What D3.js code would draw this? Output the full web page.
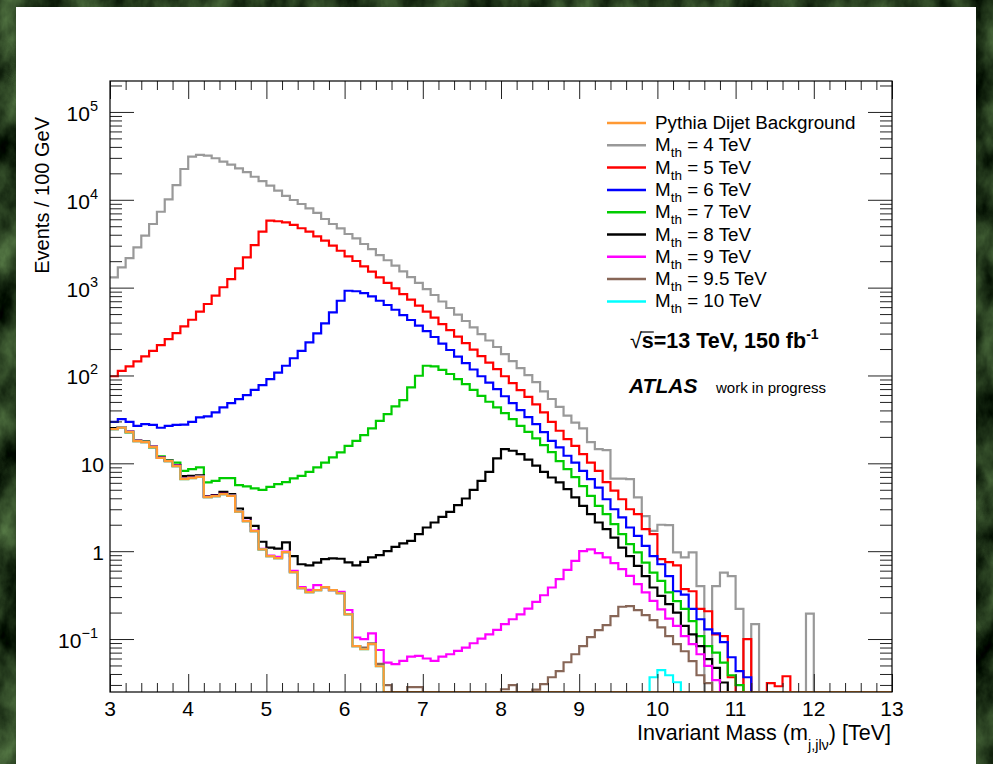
<!DOCTYPE html>
<html>
<head>
<meta charset="utf-8">
<script src="https://cdn.jsdelivr.net/npm/d3@7"></script>
<style>
  html, body { margin: 0; padding: 0; background: #24391f; }
  svg { display: block; }
  text { font-family: "Liberation Sans", Arial, Helvetica, sans-serif; fill: #000; }
</style>
</head>
<body>
<svg id="chart" width="993" height="764"></svg>
<script>
// 100 GeV bins from 3 to 13 TeV, events per bin (0 = empty bin)
var binStart = 3, binEnd = 13, binWidth = 0.1;

var pythia = [
  24.5, 25.5, 22.7, 17.9, 17.4, 15.3, 11.5, 10.6, 9.3, 6.6,
  6.8, 7.0, 4.12, 4.23, 4.46, 4.25, 2.82, 2.2, 1.69, 1.05,
  0.877, 0.832, 0.975, 0.576, 0.379, 0.341, 0.36, 0.389, 0.36, 0.332,
  0.191, 0.0828, 0.0765, 0.0873, 0.049, 0, 0, 0, 0, 0,
  0, 0, 0, 0, 0, 0, 0, 0, 0, 0,
  0, 0, 0, 0, 0, 0, 0, 0, 0, 0,
  0, 0, 0, 0, 0, 0, 0, 0, 0, 0,
  0, 0, 0, 0, 0, 0, 0, 0, 0, 0,
  0, 0, 0, 0, 0, 0, 0, 0, 0, 0,
  0, 0, 0, 0, 0, 0, 0, 0, 0, 0
];
var mth4 = [
  1310, 1700, 2170, 2880, 3900, 5300, 7310, 10100, 14700, 22400,
  31000, 32400, 31800, 29700, 27200, 25100, 22800, 20600, 18300, 16300,
  14500, 12700, 11100, 9950, 8960, 8000, 7080, 6040, 5300, 4730,
  4080, 3640, 3140, 2750, 2350, 2050, 1780, 1530, 1320, 1130,
  964, 824, 695, 586, 494, 417, 352, 296, 250, 211,
  175, 146, 121, 101, 84, 66, 54, 44, 35, 29,
  25, 17.4, 14.5, 14.1, 6.7, 6.7, 6.6, 4.1, 2.5, 1.7,
  2.0, 1.98, 0.97, 0.85, 0.97, 0.40, 0, 0.40, 0.57, 0.52,
  0.22, 0, 0.148, 0, 0, 0, 0, 0, 0, 0.195,
  0, 0, 0, 0, 0, 0, 0, 0, 0, 0
];
var mth5 = [
  98, 113, 127, 145, 165, 191, 222, 260, 304, 362,
  431, 532, 651, 809, 1010, 1250, 1660, 2210, 3050, 4330,
  5780, 5700, 5540, 5170, 4740, 4330, 3840, 3420, 3000, 2630,
  2270, 2010, 1750, 1520, 1310, 1130, 982, 845, 732, 625,
  534, 456, 385, 329, 277, 234, 197, 166, 140, 118,
  98, 82, 68, 57, 47, 38, 29.7, 23.5, 18.9, 15.8,
  12.7, 10.2, 8.2, 6.1, 4.9, 3.9, 3.0, 2.64, 1.78, 1.56,
  0.81, 0.75, 0.69, 0.37, 0.35, 0.22, 0.207, 0.113, 0.108, 0.0367,
  0, 0.0995, 0, 0, 0.0314, 0.029, 0.0377, 0, 0, 0,
  0, 0, 0, 0, 0, 0, 0, 0, 0, 0
];
var mth6 = [
  29.7, 31.9, 29.7, 26.7, 27.9, 27.4, 25.4, 26.7, 27.4, 27.6,
  29.7, 33.3, 34.2, 38, 43.3, 48.5, 53.8, 59.8, 68.7, 77.8,
  91, 108, 129, 157, 191, 238, 302, 392, 523, 709,
  922, 910, 867, 796, 709, 634, 560, 487, 428, 370,
  320, 274, 231, 195, 164, 138, 117, 98, 83, 70,
  58, 48.5, 40.4, 33.6, 27.9, 22.6, 18, 15.2, 12.2, 10.2,
  8.2, 6.6, 5.3, 3.9, 3.0, 2.42, 1.86, 1.49, 1.15, 0.88,
  0.71, 0.52, 0.35, 0.32, 0.22, 0.168, 0.129, 0.116, 0.092, 0.062,
  0.043, 0.0367, 0, 0, 0, 0, 0, 0, 0, 0,
  0, 0, 0, 0, 0, 0, 0, 0, 0, 0
];
var mth7 = [
  25, 25.4, 22.5, 18, 17.6, 15.2, 12, 10.9, 10.2, 8.2,
  8.6, 9.0, 6.06, 6.32, 6.78, 6.8, 5.65, 5.46, 5.18, 4.99,
  5.4, 5.8, 6.1, 6.73, 7.2, 8.0, 8.98, 10.2, 11.7, 13.3,
  15.8, 18, 20.9, 25, 30.5, 36.3, 44.5, 52.5, 73.1, 99.3,
  129, 127, 116, 104, 91, 79.8, 68.7, 58.7, 50.2, 43.3,
  37.3, 31.9, 26.7, 22.8, 19.2, 16.1, 13.4, 10.6, 8.6, 6.97,
  5.5, 4.26, 3.28, 2.64, 2.03, 1.56, 1.2, 0.97, 0.74, 0.57,
  0.46, 0.34, 0.27, 0.22, 0.16, 0.108, 0.083, 0.070, 0.054, 0.0387,
  0.0298, 0, 0, 0, 0, 0, 0, 0, 0, 0,
  0, 0, 0, 0, 0, 0, 0, 0, 0, 0
];
var mth8 = [
  25.2, 25.8, 23, 18.1, 17.7, 15.5, 11.6, 10.7, 9.5, 7.15,
  7.2, 7.3, 4.2, 4.34, 4.74, 4.46, 3.06, 2.39, 1.94, 1.28,
  1.10, 1.07, 1.26, 0.88, 0.71, 0.69, 0.74, 0.81, 0.826, 0.82,
  0.745, 0.69, 0.755, 0.85, 0.90, 1.0, 1.12, 1.23, 1.31, 1.56,
  1.86, 2.12, 2.46, 2.80, 3.34, 3.98, 4.99, 6.32, 8.0, 11.4,
  14.5, 13.9, 12.7, 11.0, 9.4, 8.0, 6.9, 6.06, 5.08, 4.09,
  3.28, 2.64, 2.12, 1.78, 1.43, 1.10, 0.88, 0.68, 0.52, 0.386,
  0.31, 0.249, 0.20, 0.141, 0.113, 0.083, 0.059, 0.047, 0.032, 0,
  0, 0, 0, 0, 0, 0, 0, 0, 0, 0,
  0, 0, 0, 0, 0, 0, 0, 0, 0, 0
];
var mth9 = [
  24.6, 25.6, 22.8, 18, 17.5, 15.4, 11.6, 10.7, 9.4, 6.7,
  6.9, 7.1, 4.15, 4.26, 4.5, 4.3, 2.85, 2.22, 1.71, 1.06,
  0.89, 0.86, 0.99, 0.597, 0.39, 0.362, 0.41, 0.386, 0.36, 0.344,
  0.214, 0.104, 0.0995, 0.116, 0.075, 0.054, 0.0517, 0.0563, 0.0632, 0.0643,
  0.060, 0.0563, 0.0632, 0.0671, 0.0732, 0.080, 0.0895, 0.101, 0.113, 0.127,
  0.148, 0.168, 0.191, 0.222, 0.265, 0.315, 0.386, 0.48, 0.612, 0.776,
  1.0, 1.05, 0.95, 0.848, 0.73, 0.624, 0.523, 0.421, 0.339, 0.272,
  0.218, 0.171, 0.141, 0.108, 0.0873, 0.0671, 0.0494, 0.034, 0, 0,
  0, 0, 0, 0, 0, 0, 0, 0, 0, 0,
  0, 0, 0, 0, 0, 0, 0, 0, 0, 0
];
var mth95 = [
  24.5, 25.5, 22.7, 17.9, 17.4, 15.3, 11.5, 10.6, 9.3, 6.7,
  6.9, 7.05, 4.13, 4.24, 4.47, 4.26, 2.83, 2.2, 1.69, 1.05,
  0.877, 0.832, 0.975, 0.577, 0.38, 0.342, 0.361, 0.39, 0.361, 0.333,
  0.192, 0.083, 0.08, 0.089, 0.052, 0.0298, 0, 0, 0.0283, 0.0283,
  0, 0, 0, 0, 0, 0, 0, 0, 0, 0,
  0.0268, 0.0298, 0, 0, 0.0265, 0.0306, 0.0367, 0.043, 0.0544, 0.0671,
  0.0828, 0.105, 0.126, 0.144, 0.182, 0.233, 0.237, 0.213, 0.187, 0.164,
  0.136, 0.108, 0.0873, 0.0726, 0.0559, 0.0387, 0.0314, 0, 0, 0,
  0, 0, 0, 0, 0, 0, 0, 0, 0, 0,
  0, 0, 0, 0, 0, 0, 0, 0, 0, 0
];
var mth10 = [
  24.5, 25.5, 22.7, 17.9, 17.4, 15.3, 11.5, 10.6, 9.3, 6.6,
  6.8, 7.0, 4.12, 4.23, 4.46, 4.25, 2.82, 2.2, 1.69, 1.05,
  0.877, 0.832, 0.975, 0.576, 0.379, 0.341, 0.36, 0.389, 0.36, 0.332,
  0.191, 0.0828, 0.0765, 0.0873, 0.049, 0, 0, 0, 0, 0,
  0, 0, 0, 0, 0, 0, 0, 0, 0, 0,
  0, 0, 0, 0, 0, 0, 0, 0, 0, 0,
  0, 0, 0, 0, 0, 0, 0, 0, 0, 0.0367,
  0.0442, 0.0387, 0.0322, 0, 0, 0, 0, 0, 0, 0,
  0, 0, 0, 0, 0, 0, 0, 0, 0, 0,
  0, 0, 0, 0, 0, 0, 0, 0, 0, 0
];

var legendLabels = ["Pythia Dijet Background", "4", "5", "6", "7", "8", "9", "9.5", "10"];
var legendColors = ["#ff9933", "#999999", "#ff0000", "#0000ff", "#00cc00", "#000000", "#ff00ff", "#876657", "#00ffff"];
var allSeries = [pythia, mth4, mth5, mth6, mth7, mth8, mth9, mth95, mth10];

var xTicks = [3, 4, 5, 6, 7, 8, 9, 10, 11, 12, 13];
var yMajor = [0.1, 1, 10, 100, 1000, 10000, 100000];
var yLabelExp = ["\u22121", null, null, "2", "3", "4", "5"];

var svg = d3.select("#chart");

// textured dark green background + white canvas
var defs = svg.append("defs");
var filt = defs.append("filter").attr("id", "marble").attr("x", 0).attr("y", 0).attr("width", 1).attr("height", 1)
    .attr("color-interpolation-filters", "sRGB");
filt.append("feTurbulence").attr("type", "fractalNoise").attr("baseFrequency", "0.03 0.018").attr("numOctaves", 5).attr("seed", 11);
filt.append("feColorMatrix").attr("type", "matrix")
    .attr("values", "0.55 0 0 0 -0.13  0.7 0 0 0 -0.12  0.45 0 0 0 -0.11  0 0 0 0 1");
svg.append("rect").attr("width", 993).attr("height", 764).attr("filter", "url(#marble)");
svg.append("rect").attr("x", 16).attr("y", 7).attr("width", 960).attr("height", 757).attr("fill", "#fff");

var pLeft = 110, pRight = 892, pTop = 81, pBottom = 692;
var x = d3.scaleLinear().domain([binStart, binEnd]).range([pLeft, pRight]);
var y = d3.scaleLog().domain([0.02494, 2.25e5]).range([pBottom, pTop]);
var yMin = y.domain()[0];

var line = d3.line()
    .x(function (d) { return x(d[0]); })
    .y(function (d) { return y(Math.max(d[1], yMin)); })
    .curve(d3.curveStepAfter);

function steps(vals) {
    var pts = vals.map(function (v, i) { return [binStart + i * binWidth, v]; });
    pts.push([binEnd, vals[vals.length - 1]]);
    return pts;
}

var plot = svg.append("g");
plot.append("clipPath").attr("id", "frameClip").append("rect")
    .attr("x", pLeft).attr("y", pTop - 2).attr("width", pRight - pLeft).attr("height", pBottom - pTop + 2);

// draw order: signals first, background on top
[1, 2, 3, 4, 5, 6, 7, 8, 0].forEach(function (k) {
    plot.append("path")
        .attr("d", line(steps(allSeries[k])))
        .attr("fill", "none")
        .attr("stroke", legendColors[k])
        .attr("stroke-width", 2.2)
        .attr("clip-path", "url(#frameClip)");
});

// ticks
var minorX = d3.range(30, 131, 2).map(function (d) { return d / 10; }).filter(function (d) { return d % 1 !== 0; });
var yMinor = [];
for (var e = -2; e <= 5; e++) {
    for (var k = 2; k <= 9; k++) {
        var v = k * Math.pow(10, e);
        if (v >= yMin && v <= y.domain()[1]) yMinor.push(v);
    }
}

function tickGroup(axis, tx, ty) {
    var g = svg.append("g").attr("transform", "translate(" + tx + "," + ty + ")").call(axis);
    g.select(".domain").remove();
    g.selectAll("line").attr("stroke", "#222");
    g.selectAll("text").remove();
}
tickGroup(d3.axisTop(x).tickValues(xTicks).tickSize(18), 0, pBottom);
tickGroup(d3.axisTop(x).tickValues(minorX).tickSize(9), 0, pBottom);
tickGroup(d3.axisBottom(x).tickValues(xTicks).tickSize(18), 0, pTop);
tickGroup(d3.axisBottom(x).tickValues(minorX).tickSize(9), 0, pTop);
tickGroup(d3.axisRight(y).tickValues(yMajor).tickSize(24), pLeft, 0);
tickGroup(d3.axisRight(y).tickValues(yMinor).tickSize(12), pLeft, 0);
tickGroup(d3.axisLeft(y).tickValues(yMajor).tickSize(24), pRight, 0);
tickGroup(d3.axisLeft(y).tickValues(yMinor).tickSize(12), pRight, 0);

svg.append("rect").attr("x", pLeft).attr("y", pTop).attr("width", pRight - pLeft).attr("height", pBottom - pTop)
    .attr("fill", "none").attr("stroke", "#000").attr("stroke-width", 1.2);

// tick labels
xTicks.forEach(function (t) {
    svg.append("text").attr("x", x(t)).attr("y", 716).attr("text-anchor", "middle")
        .style("font-size", "21px").text(t);
});
yMajor.forEach(function (t, i) {
    var ty = y(t) + 9;
    var lab = svg.append("text").attr("y", ty).attr("text-anchor", "end").style("font-size", "21px");
    if (yLabelExp[i] === null) {
        lab.attr("x", 104).text(t);
    } else {
        lab.attr("x", 98);
        lab.append("tspan").text("10");
        lab.append("tspan").attr("dy", -10).style("font-size", "14.5px").text(yLabelExp[i]);
    }
});

// axis titles
svg.append("text").attr("transform", "translate(49,117) rotate(-90)").attr("text-anchor", "end")
    .style("font-size", "20px").text("Events / 100 GeV");
var xt = svg.append("text").attr("x", 891).attr("y", 740).attr("text-anchor", "end").style("font-size", "21.5px");
xt.append("tspan").text("Invariant Mass (m");
xt.append("tspan").attr("dy", 10).style("font-size", "14.5px").text("j,jl\u03bd");
xt.append("tspan").attr("dy", -10).text(") [TeV]");

// legend
legendLabels.forEach(function (lab, i) {
    var ly = 123 + 22.3 * i;
    svg.append("line").attr("x1", 607).attr("x2", 646).attr("y1", ly).attr("y2", ly)
        .attr("stroke", legendColors[i]).attr("stroke-width", 2.5);
    var t = svg.append("text").attr("x", 655).attr("y", ly + 6).style("font-size", "18.8px");
    if (i === 0) {
        t.text(lab);
    } else {
        t.append("tspan").text("M");
        t.append("tspan").attr("dy", 6).style("font-size", "13.5px").text("th");
        t.append("tspan").attr("dy", -6).text(" = " + lab + " TeV");
    }
});

// energy / lumi and ATLAS label
var info = svg.append("text").attr("x", 630).attr("y", 348).style("font-size", "21.5px").style("font-weight", "bold");
info.append("tspan").style("font-weight", "normal").text("\u221a");
info.append("tspan").text("s=13 TeV, 150 fb");
info.append("tspan").attr("dy", -9).style("font-size", "14px").text("-1");
var inode = info.node();
var sPos = inode.getStartPositionOfChar(1);
var sW = inode.getSubStringLength(1, 1);
svg.append("line").attr("x1", sPos.x - 1).attr("x2", sPos.x + sW).attr("y1", 332).attr("y2", 332)
    .attr("stroke", "#000").attr("stroke-width", 1.2);

svg.append("text").attr("x", 629).attr("y", 393).style("font-size", "21px")
    .style("font-weight", "bold").style("font-style", "italic").text("ATLAS");
svg.append("text").attr("x", 716).attr("y", 393).style("font-size", "15px").text("work in progress");
</script>
</body>
</html>
